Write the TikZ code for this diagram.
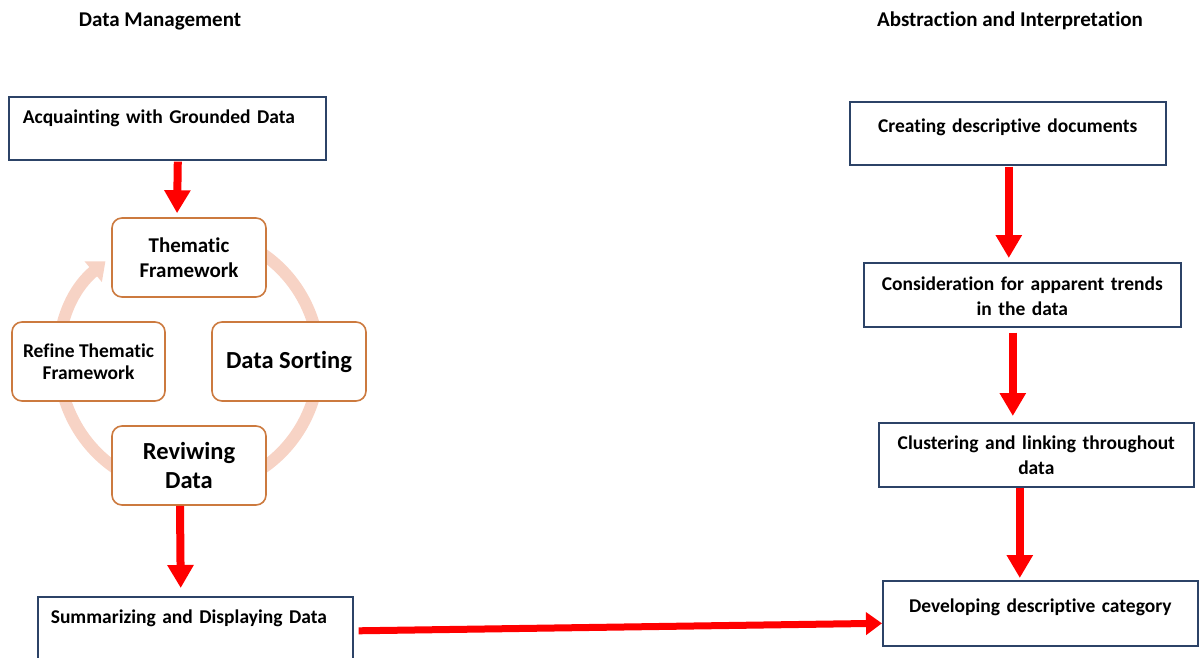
\documentclass[tikz,border=0pt]{standalone}
\usepackage{fontspec}
\setmainfont{Carlito}[Ligatures=NoCommon]
\usetikzlibrary{arrows.meta}
\definecolor{navy}{HTML}{2C4367}
\definecolor{rust}{HTML}{CC7A3F}
\definecolor{blush}{HTML}{F7D3C5}
\tikzset{
  navybox/.style={draw=navy, line width=1.6pt, fill=white, anchor=north west,
    inner ysep=0pt, inner xsep=8pt, align=center,
    font=\bfseries\fontsize{19.5}{25}\selectfont},
  cyclebox/.style={draw=rust, line width=1.6pt, fill=white, rounded corners=10pt,
    minimum width=154pt, minimum height=79pt, align=center, inner sep=2pt},
  redarrow/.style={red, line width=8pt, -{Triangle[width=25pt,length=23pt]}},
  title/.style={font=\bfseries\fontsize{21}{25}\selectfont}
}
\begin{document}
\begin{tikzpicture}[x=1pt,y=-1pt]
\useasboundingbox (0,0) rectangle (1200,658);
% headings
\node[title] (hleft) at (160,21) {Data Management};
\node[title] (hright) at (1010,21) {Abstraction and Interpretation};
% cycle ring
\draw[blush, line width=12pt, -{Triangle[width=26pt,length=16pt]}]
  (189,361) ++(-120:130) arc[start angle=-120, end angle=230, radius=130];
% cycle
\node[cyclebox, font=\bfseries\fontsize{21}{25}\selectfont] (thematic) at (189,257.5) {Thematic\\Framework};
\node[cyclebox, font=\bfseries\fontsize{19.5}{22}\selectfont, minimum width=153pt] (refine) at (88.5,361.5) {Refine Thematic\\Framework};
\node[cyclebox, font=\bfseries\fontsize{24.5}{29}\selectfont] (sorting) at (289,361.5) {Data Sorting};
\node[cyclebox, font=\bfseries\fontsize{24.5}{29}\selectfont] (reviewing) at (189,465.5) {Reviwing\\Data};
% left column
\node[navybox, inner xsep=14pt, text width=289pt, align=left, text height=27pt, text depth=36pt] (acq) at (8,96) {Acquainting with Grounded Data};
\node[navybox, inner xsep=13pt, text width=289pt, align=left, text height=27pt, text depth=37pt] (summ) at (37,596) {Summarizing and Displaying Data};
% right column
\node[navybox, text width=300pt, text height=31pt, text depth=32pt] (create) at (849,101) {Creating descriptive documents};
\node[navybox, text width=301pt, text height=28pt, text depth=36pt] (cons) at (863,262) {Consideration for apparent trends\\in the data};
\node[navybox, text width=299pt, text height=27pt, text depth=37pt] (clus) at (878,422) {Clustering and linking throughout\\data};
\node[navybox, text width=299pt, text height=32pt, text depth=33pt] (devel) at (882,580) {Developing descriptive category};
% red arrows
\draw[redarrow, shorten <=1pt, shorten >=4pt] ([xshift=10.5pt]acq.south) -- ([xshift=-12pt]thematic.north);
\draw[redarrow, shorten >=8pt] ([xshift=-9pt]reviewing.south) -- ([xshift=-14.5pt]summ.north);
\draw[redarrow, shorten <=1pt, shorten >=4pt] ([xshift=1pt]create.south) -- ([xshift=-13.5pt]cons.north);
\draw[redarrow, shorten <=5pt, shorten >=6pt] ([xshift=-9.5pt]cons.south) -- ([xshift=-23.5pt]clus.north);
\draw[redarrow, shorten >=2pt] ([xshift=-16.5pt]clus.south) -- ([xshift=-20.5pt]devel.north);
\draw[red, line width=7pt, -{Triangle[width=22pt,length=16pt]}] ([xshift=5pt,yshift=-2pt]summ.east) -- ([yshift=-10pt]devel.west);
\end{tikzpicture}
\end{document}
